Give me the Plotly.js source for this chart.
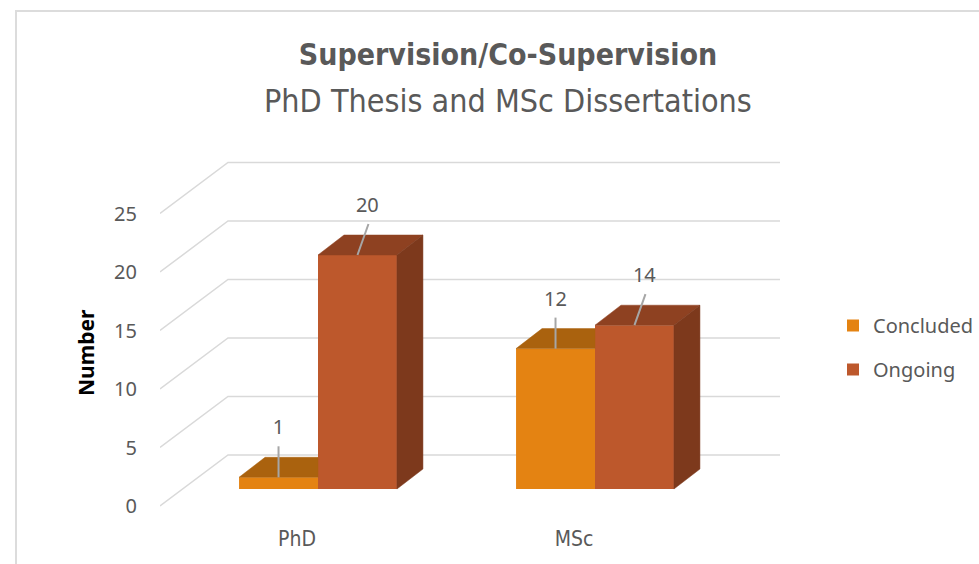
<!DOCTYPE html>
<html><head><meta charset="utf-8">
<script src="https://cdn.plot.ly/plotly-3.0.1.min.js"></script>
<style>
html,body{margin:0;padding:0;background:#fff;}
#wrap{position:relative;width:979px;height:564px;overflow:hidden;}
#chart{width:979px;height:564px;}
#frame{position:absolute;left:15px;top:10px;width:1000px;height:600px;border:2px solid #dcdcdc;pointer-events:none;}
</style>
</head><body>
<div id="wrap"><div id="chart"></div><div id="frame"></div></div>
<script>
// ---- data ----
const categories = ['PhD', 'MSc'];
const seriesNames = ['Concluded', 'Ongoing'];
const concluded = [1, 12];
const ongoing = [20, 14];
const yTickValues = [0, 5, 10, 15, 20, 25];
const yTickLabels = ['0', '5', '10', '15', '20', '25'];
const seriesValues = [concluded, ongoing];
const titleText = 'Supervision/Co-Supervision';
const subtitleText = 'PhD Thesis and MSc Dissertations';
const yTitleText = 'Number';

// ---- styles ----
const frontColors = ['#E48312', '#BD582C'];
const topColors = ['#AA620E', '#8E4121'];
const sideColors = ['#A0590B', '#7D391C'];
const textGray = '#595959';
const gridColor = '#d9d9d9';

// ---- layout geometry (pixels -> axis units) ----
const W = 979, H = 564;
const M = {l: 160, r: 179, t: 150, b: 49, autoexpand: false};
const PW = W - M.l - M.r, PH = H - M.t - M.b;
const xRange = [-0.5704, 1.7401];
const yRange = [-2.222, 28.974];
const pxX = PW / (xRange[1] - xRange[0]);
const pxY = PH / (yRange[1] - yRange[0]);
const depthX = 26 / pxX, depthY = 20 / pxY;        // bar depth
const frontDrop = 17 / pxY;                          // floor front edge below bar plane
const backRise = 34 / pxY;                           // back wall above bar plane
const backLeft = xRange[0] + 68 / pxX;
const backRight = xRange[0] + 620 / pxX;
const bargap = 0.43;
const half = (1 - bargap) / 2;
const paperX = px => (px - M.l) / PW;
const paperY = py => (H - M.b - py) / PH;

const traces = [];
// front faces (real bars)
seriesNames.forEach((name, s) => {
  traces.push({
    type: 'bar', name: name, legendgroup: name,
    x: categories.map((c, i) => i), y: seriesValues[s],
    marker: {color: frontColors[s], line: {width: 0}},
    hoverinfo: 'skip'
  });
});
// 3D top and side faces built from the same values
seriesNames.forEach((name, s) => {
  categories.forEach((c, i) => {
    const v = seriesValues[s][i];
    const xl = i - half + s * half, xr = xl + half;
    const next = s + 1 < seriesValues.length ? seriesValues[s + 1][i] : null;
    const hidden = next !== null && next >= v + depthY;
    const topX = hidden ? [xl, xl + depthX, xr, xr, xl] : [xl, xl + depthX, xr + depthX, xr, xl];
    const topY = [v, v + depthY, v + depthY, v, v];
    traces.push({type: 'scatter', mode: 'lines', x: topX, y: topY, fill: 'toself',
      fillcolor: topColors[s], line: {color: topColors[s], width: 0.5},
      showlegend: false, hoverinfo: 'skip'});
    if (next === null) {
      traces.push({type: 'scatter', mode: 'lines',
        x: [xr, xr, xr + depthX, xr + depthX, xr], y: [0, v, v + depthY, depthY, 0],
        fill: 'toself', fillcolor: sideColors[s], line: {color: sideColors[s], width: 0.5},
        showlegend: false, hoverinfo: 'skip'});
    }
  });
});
// leader lines and data labels
const lx = [], ly = [], tx = [], ty = [], tt = [];
seriesNames.forEach((name, s) => {
  categories.forEach((c, i) => {
    const v = seriesValues[s][i];
    const xc = i - half / 2 + s * half;
    const slant = s === 0 ? 0 : 11 / pxX;
    lx.push(xc, xc + slant, null);
    ly.push(v, v + 31 / pxY, null);
    tx.push(xc + slant * 0.9);
    ty.push(v + 48 / pxY);
    tt.push(String(v));
  });
});
traces.push({type: 'scatter', mode: 'lines', x: lx, y: ly, line: {color: '#A6A6A6', width: 2},
  showlegend: false, hoverinfo: 'skip'});
traces.push({type: 'scatter', mode: 'text', x: tx, y: ty, text: tt, textposition: 'middle center',
  textfont: {family: 'Noto Sans', size: 20, color: textGray}, showlegend: false, hoverinfo: 'skip'});

// gridlines (perspective floor + back wall)
const shapes = yTickValues.map(v => ({
  type: 'path', xref: 'x', yref: 'y', layer: 'below',
  path: `M ${xRange[0]},${v - frontDrop} L ${backLeft},${v + backRise} L ${backRight},${v + backRise}`,
  line: {color: gridColor, width: 1.5}
}));

const layout = {
  width: W, height: H,
  margin: M,
  paper_bgcolor: '#fff', plot_bgcolor: '#fff',
  hovermode: false,
  barmode: 'group', bargap: bargap, bargroupgap: 0,
  title: {
    text: '<b>' + titleText + '</b>',
    font: {family: 'DejaVu Sans Condensed', size: 30, color: textGray},
    x: 508 / W, xanchor: 'center', xref: 'container',
    y: 1 - 44 / H, yanchor: 'top', yref: 'container'
  },
  annotations: [
    {text: subtitleText, xref: 'paper', yref: 'paper', x: paperX(508), y: paperY(101),
     xanchor: 'center', yanchor: 'middle', showarrow: false,
     font: {family: 'DejaVu Sans Condensed', size: 32, color: textGray}},
    {text: '<b>' + yTitleText + '</b>', xref: 'paper', yref: 'paper', x: paperX(86), y: paperY(353),
     xanchor: 'center', yanchor: 'middle', textangle: -90, showarrow: false,
     font: {family: 'Noto Sans', size: 21, color: '#000'}}
  ],
  xaxis: {
    range: xRange, showgrid: false, zeroline: false, showline: false,
    tickmode: 'array', tickvals: categories.map((c, i) => i - 21 / pxX), ticktext: categories,
    ticks: 'outside', ticklen: 5, tickcolor: 'rgba(0,0,0,0)',
    tickfont: {family: 'DejaVu Sans Condensed', size: 21, color: textGray}, fixedrange: true
  },
  yaxis: {
    range: yRange, showgrid: false, zeroline: false, showline: false,
    tickmode: 'array', tickvals: yTickValues.map(v => v - frontDrop), ticktext: yTickLabels,
    ticks: 'outside', ticklen: 18, tickcolor: 'rgba(0,0,0,0)',
    tickfont: {family: 'Noto Sans', size: 20, color: textGray},
    fixedrange: true
  },
  legend: {
    x: paperX(833), xanchor: 'left',
    y: paperY(306), yanchor: 'top',
    font: {family: 'Noto Sans', size: 20, color: textGray},
    tracegroupgap: 15, bgcolor: 'rgba(0,0,0,0)'
  },
  shapes: shapes
};
Plotly.newPlot('chart', traces, layout, {displayModeBar: false, staticPlot: true});
</script>
</body></html>
